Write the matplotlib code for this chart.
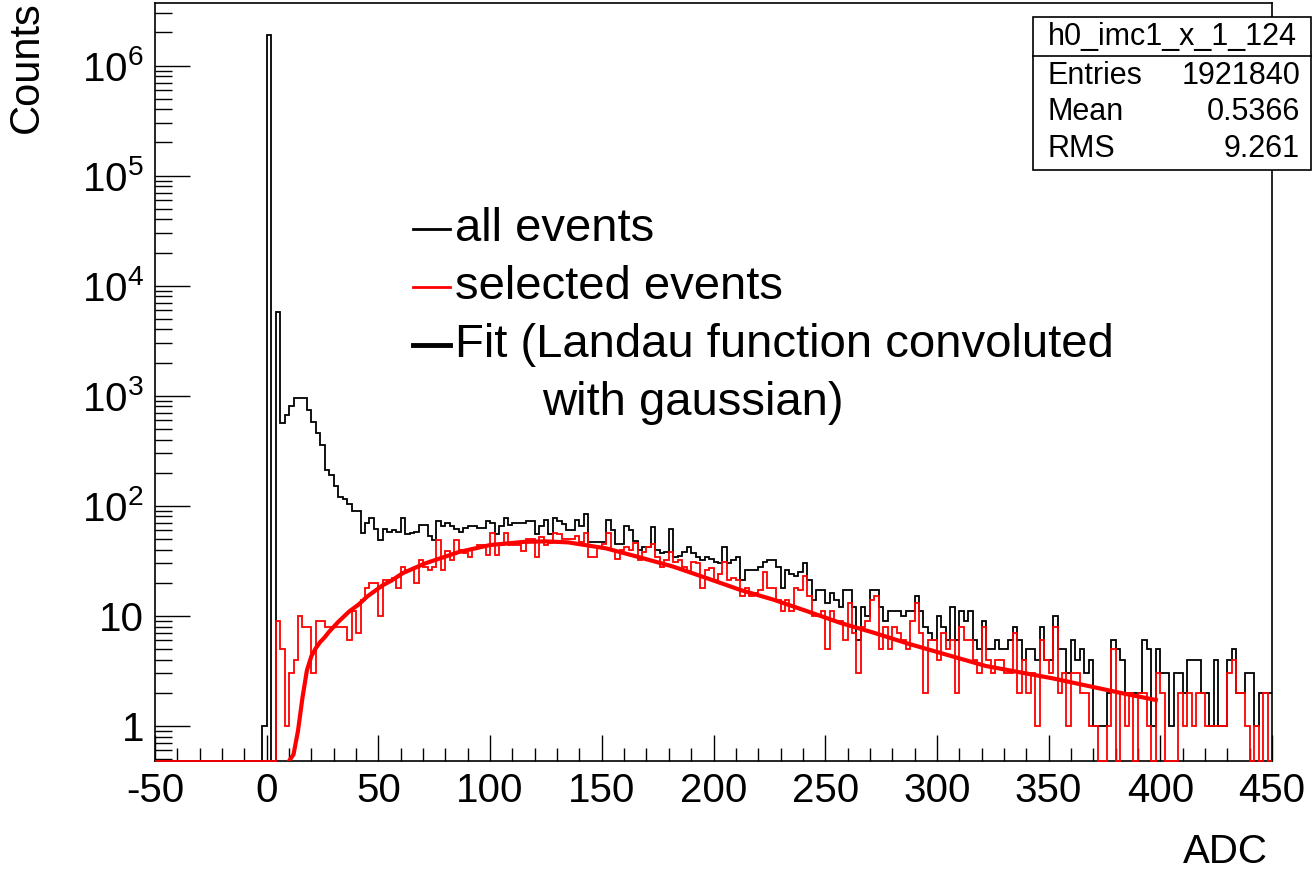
import numpy as np
import matplotlib
matplotlib.use("Agg")
import matplotlib.pyplot as plt
from matplotlib.lines import Line2D
from matplotlib.patches import Rectangle
from matplotlib.ticker import MultipleLocator, LogLocator, FuncFormatter

plt.rcParams['font.family'] = ['Liberation Sans', 'DejaVu Sans']
plt.rcParams['mathtext.fontset'] = 'custom'
plt.rcParams['mathtext.rm'] = 'Liberation Sans'

# histogram binning (ADC), 250 bins of width 2
x_lo, x_hi, bin_w = -50, 450, 2

# all events, bins starting at ADC = -2
black_start = -2
black_counts = [
    1, 1900000, 0, 5800, 571, 671, 799, 952, 952, 952,
    740, 583, 458, 359, 210, 190, 150, 121, 115, 104,
    89, 89, 57, 70, 77, 61, 49, 61, 58, 60,
    58, 77, 56, 57, 58, 67, 67, 53, 49, 73,
    65, 70, 65, 61, 58, 63, 66, 65, 63, 63,
    72, 70, 55, 65, 77, 67, 70, 70, 70, 72,
    72, 56, 65, 74, 56, 77, 72, 68, 60, 60,
    75, 65, 85, 47, 47, 47, 47, 75, 60, 45,
    45, 66, 60, 48, 40, 42, 42, 64, 40, 37,
    38, 62, 34, 35, 38, 42, 37, 34, 32, 34,
    33, 31, 30, 42, 30, 32, 34, 21, 26, 26,
    26, 28, 31, 32, 32, 28, 18, 26, 24, 23,
    25, 30, 21, 14, 17, 17, 13, 16, 14, 12,
    17, 17, 12, 6, 12, 10, 17, 17, 12, 9,
    11, 11, 11, 10, 11, 11, 15, 11, 8, 7,
    6, 10, 8, 6, 12, 6, 11, 9, 11, 6,
    5, 9, 5, 5, 6, 5, 5, 6, 8, 6,
    4, 5, 5, 4, 8, 4, 4, 10, 5, 5,
    3, 6, 4, 5, 3, 4, 1, 1, 1, 2,
    6, 5, 4, 2, 2, 2, 2, 6, 5, 1,
    5, 3, 3, 1, 3, 3, 2, 4, 4, 4,
    2, 2, 1, 4, 1, 1, 4, 5, 2, 2,
    3, 3, 1, 2, 2, 2,
]

# selected events, bins starting at ADC = 4
red_start = 4
red_counts = [
    9, 5, 1, 3, 4, 10, 8, 8, 3, 9,
    9, 8, 8, 8, 8, 8, 6, 11, 7, 14,
    18, 20, 20, 10, 21, 21, 22, 18, 28, 26,
    26, 20, 32, 28, 26, 28, 49, 26, 39, 32,
    49, 40, 37, 34, 41, 44, 44, 36, 57, 36,
    44, 57, 44, 44, 44, 39, 50, 50, 34, 52,
    44, 46, 57, 56, 50, 50, 50, 53, 47, 57,
    34, 34, 42, 45, 57, 40, 33, 40, 42, 40,
    46, 32, 38, 42, 45, 34, 28, 32, 38, 31,
    32, 28, 25, 31, 30, 18, 26, 27, 21, 24,
    31, 21, 22, 21, 15, 18, 15, 16, 17, 25,
    18, 18, 14, 11, 14, 11, 18, 17, 23, 15,
    10, 10, 11, 5, 11, 9, 9, 6, 13, 7,
    3, 8, 9, 14, 15, 5, 8, 5, 8, 7,
    6, 5, 9, 13, 7, 2, 6, 6, 4, 7,
    5, 6, 2, 8, 6, 6, 4, 3, 8, 4,
    3, 4, 4, 3, 3, 7, 2, 4, 2, 3,
    1, 6, 4, 3, 8, 2, 3, 1, 3, 3,
    2, 2, 1, 1, 0, 0, 1, 5, 0, 2,
    1, 2, 0, 2, 2, 1, 0, 3, 2, 0,
    0, 0, 2, 1, 2, 1, 2, 2, 1, 1,
    1, 1, 1, 3, 4, 2, 2, 1, 0, 1,
    0, 2, 0,
]

# Landau (x) gaussian fit curve
fit_x = [10, 12, 14, 16, 18, 20, 22, 24, 26, 28, 32, 37, 41, 45, 52, 56, 61,
         71, 86, 100, 115, 125, 135, 152, 167, 182, 197, 212, 227, 242, 257,
         272, 287, 300, 322, 352, 382, 398]
fit_y = [0.48, 0.55, 0.9, 1.8, 3.2, 4.3, 5.1, 5.8, 6.4, 7.2, 8.8, 11, 12.6,
         15, 19, 21, 24.5, 30, 38, 44, 47, 47.5, 46.5, 41, 34, 28, 22, 17.2,
         14, 11, 8.6, 7, 5.6, 4.7, 3.5, 2.7, 2.0, 1.72]

stats_title = "h0_imc1_x_1_124"
stats_rows = [("Entries", "1921840"), ("Mean", "0.5366"), ("RMS", "9.261")]

y_lo, y_hi = 0.48, 3.7e6


def full_hist(start, counts):
    edges = np.arange(x_lo, x_hi + bin_w, bin_w)
    vals = np.zeros(len(edges) - 1)
    i0 = (start - x_lo) // bin_w
    vals[i0:i0 + len(counts)] = counts
    # empty bins sit on the bottom of the frame, like ROOT draws them
    vals[vals <= 0] = y_lo
    return edges, vals


W, H = 1312, 873
fig = plt.figure(figsize=(W / 100, H / 100), dpi=100)
ax = fig.add_axes([155 / W, 1 - 761 / H, (1272 - 155) / W, (761 - 3) / H])

edges, vb = full_hist(black_start, black_counts)
ax.stairs(vb, edges, baseline=None, color='black', lw=1.3, clip_on=False, zorder=3)
edges, vr = full_hist(red_start, red_counts)
ax.stairs(vr, edges, baseline=None, color='red', lw=1.3, clip_on=False, zorder=4)
ax.plot(fit_x, fit_y, color='red', lw=3, zorder=5)

ax.set_yscale('log')
ax.set_xlim(x_lo, x_hi)
ax.set_ylim(y_lo, y_hi)
ax.xaxis.set_major_locator(MultipleLocator(50))
ax.xaxis.set_minor_locator(MultipleLocator(10))
ax.yaxis.set_major_locator(LogLocator(base=10, numticks=20))
ax.yaxis.set_minor_locator(LogLocator(base=10, subs=np.arange(2, 10), numticks=20))


def log_label(v, pos):
    e = int(round(np.log10(v)))
    if e == 0:
        return "1"
    if e == 1:
        return "10"
    return r"$\mathregular{10^{%d}}$" % e


ax.yaxis.set_major_formatter(FuncFormatter(log_label))
ax.xaxis.set_major_formatter(FuncFormatter(lambda v, p: "%d" % v))
ax.tick_params(axis='x', which='major', direction='in', length=19, width=1, pad=8, labelsize=29)
ax.tick_params(axis='x', which='minor', direction='in', length=9.5, width=1)
ax.tick_params(axis='y', which='major', direction='in', length=25, width=1, pad=8, labelsize=29)
ax.tick_params(axis='y', which='minor', direction='in', length=12.5, width=1)
for s in ax.spines.values():
    s.set_linewidth(1.2)

fig.text(27 / W, 1 - 1 / H, "Counts", rotation=90, ha='center', va='top', fontsize=30)
fig.text(1268 / W, 1 - 863 / H, "ADC", ha='right', va='baseline', fontsize=29)

# legend, drawn by hand to keep ROOT's layout
leg = [(229, 'black', 2, "all events"),
       (287, 'red', 2, "selected events"),
       (345, 'black', 3.5, "Fit (Landau function convoluted")]
for yy, c, lw, txt in leg:
    fig.add_artist(Line2D([413 / W, 450 / W], [1 - yy / H, 1 - yy / H], color=c, lw=lw))
    fig.text(455 / W, 1 - yy / H, txt, ha='left', va='center', fontsize=34)
fig.text(542 / W, 1 - 403 / H, "with gaussian)", ha='left', va='center', fontsize=34)

# stats box
bx0, by0, bx1, by1 = 1033, 17, 1311, 170
fig.add_artist(Rectangle((bx0 / W, 1 - by1 / H), (bx1 - bx0) / W, (by1 - by0) / H,
                         transform=fig.transFigure, facecolor='white',
                         edgecolor='black', lw=1.2, zorder=10))
fig.add_artist(Line2D([bx0 / W, bx1 / W], [1 - 56 / H, 1 - 56 / H], color='black', lw=1.2, zorder=11))
fig.text((bx0 + bx1) / 2 / W, 1 - 37 / H, stats_title, ha='center', va='center', fontsize=22, zorder=12)
for i, (k, v) in enumerate(stats_rows):
    yy = 76 + 36.5 * i
    fig.text(1047 / W, 1 - yy / H, k, ha='left', va='center', fontsize=22, zorder=12)
    fig.text(1300 / W, 1 - yy / H, v, ha='right', va='center', fontsize=22, zorder=12)

fig.savefig("out.png", dpi=100)
